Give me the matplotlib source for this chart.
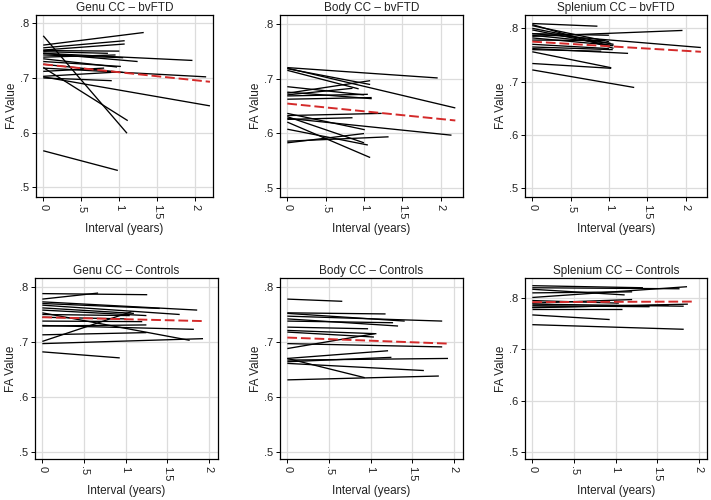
import matplotlib
matplotlib.use("Agg")
import matplotlib.pyplot as plt

plt.rcParams['font.family'] = ['Liberation Sans', 'DejaVu Sans']

# --- data: each subject is a segment from (0, y0) to (t1, y1) ---
# Genu CC - bvFTD
genu_ftd_y0 = [.777, .760, .719, .702, .567, .755, .751, .745, .718, .745, .750, .742, .735, .730, .700, .703, .738, .725, .748, .712]
genu_ftd_t1 = [1.10, 1.32, 1.11, 2.19, .98, 1.07, 1.07, 1.96, 2.14, 1.24, 1.00, 1.05, .97, 1.02, .90, 1.00, .95, 1.05, .85, .80]
genu_ftd_y1 = [.599, .783, .622, .649, .531, .768, .762, .732, .702, .730, .749, .737, .720, .721, .695, .711, .742, .710, .745, .718]
genu_ftd_fit = [.725, .693]

# Body CC - bvFTD
body_ftd_y0 = [.720, .719, .718, .715, .673, .685, .675, .670, .668, .636, .632, .627, .625, .620, .607, .582, .585, .630, .662]
body_ftd_t1 = [1.96, 2.19, 1.08, .93, 1.08, 1.00, 1.10, .85, 1.05, 1.01, 1.23, 2.14, .85, 1.08, 1.05, 1.00, 1.32, 1.00, 1.10]
body_ftd_y1 = [.701, .646, .689, .681, .696, .670, .663, .682, .671, .606, .636, .596, .628, .555, .578, .599, .593, .582, .665]
body_ftd_fit = [.654, .623]

# Splenium CC - bvFTD
splen_ftd_y0 = [.809, .807, .785, .790, .762, .756, .734, .722, .805, .800, .797, .790, .787, .782, .778, .770, .765, .760]
splen_ftd_t1 = [.85, 1.06, 1.96, 2.20, 1.25, 1.03, 1.03, 1.33, 1.00, 1.06, 1.05, 1.00, 1.02, 1.06, .95, 1.00, 1.05, .90]
splen_ftd_y1 = [.804, .7625, .796, .764, .753, .726, .725, .689, .775, .770, .767, .787, .772, .768, .777, .762, .760, .757]
splen_ftd_fit = [.775, .756]

# Genu CC - Controls
genu_ctl_y0 = [.788, .778, .773, .770, .767, .762, .758, .753, .701, .730, .729, .713, .697, .682, .738, .745, .750]
genu_ctl_t1 = [1.26, .67, 1.86, 1.41, 1.65, 1.10, 1.25, 1.77, 1.07, 1.82, 1.25, 1.25, 1.93, .93, 1.20, 1.00, 1.05]
genu_ctl_y1 = [.786, .789, .758, .761, .750, .752, .748, .703, .755, .723, .731, .717, .706, .671, .737, .742, .748]
genu_ctl_fit = [.745, .738]

# Body CC - Controls
body_ctl_y0 = [.778, .753, .752, .747, .742, .738, .727, .721, .718, .688, .697, .670, .667, .664, .661, .670, .631]
body_ctl_t1 = [.66, 1.18, 1.41, 1.86, 1.33, 1.27, .97, 1.07, 1.04, 1.05, 1.86, 1.21, 1.93, 1.25, 1.64, .93, 1.82]
body_ctl_y1 = [.774, .751, .738, .738, .729, .735, .724, .715, .709, .715, .691, .684, .670, .672, .648, .635, .638]
body_ctl_fit = [.708, .697]

# Splenium CC - Controls
splen_ctl_y0 = [.824, .820, .817, .801, .810, .788, .781, .778, .767, .748, .785, .795, .782, .790]
splen_ctl_t1 = [1.33, 1.77, 1.11, 1.86, 1.20, 1.82, 1.87, 1.08, .93, 1.82, 1.41, 1.04, 1.64, 1.20]
splen_ctl_y1 = [.820, .818, .806, .822, .812, .784, .788, .778, .758, .739, .783, .790, .786, .797]
splen_ctl_fit = [.792, .793]

titles = ["Genu CC \u2013 bvFTD", "Body CC \u2013 bvFTD", "Splenium CC \u2013 bvFTD",
          "Genu CC \u2013 Controls", "Body CC \u2013 Controls", "Splenium CC \u2013 Controls"]
panels = [
    (genu_ftd_y0, genu_ftd_t1, genu_ftd_y1, genu_ftd_fit, 2.19),
    (body_ftd_y0, body_ftd_t1, body_ftd_y1, body_ftd_fit, 2.19),
    (splen_ftd_y0, splen_ftd_t1, splen_ftd_y1, splen_ftd_fit, 2.20),
    (genu_ctl_y0, genu_ctl_t1, genu_ctl_y1, genu_ctl_fit, 1.93),
    (body_ctl_y0, body_ctl_t1, body_ctl_y1, body_ctl_fit, 1.93),
    (splen_ctl_y0, splen_ctl_t1, splen_ctl_y1, splen_ctl_fit, 1.93),
]

# axes rectangles in pixels (left, top, right, bottom) and limits
W, H = 711, 500
rects = [(36, 15, 213, 197), (280, 15, 463, 197), (525, 15, 707, 197),
         (35, 278, 218, 459), (280, 278, 463, 459), (525, 278, 707, 459)]
xlims = [(-0.095, 2.23), (-0.095, 2.29), (-0.095, 2.28),
         (-0.088, 2.11), (-0.088, 2.11), (-0.088, 2.10)]
ylims = [(.4825, .815), (.4826, .8165), (.4835, .825),
         (.487, .8164), (.487, .8164), (.486, .839)]

fig = plt.figure(figsize=(W / 100, H / 100), dpi=100)
fig.patch.set_facecolor('white')

for i, (y0, t1, y1, fit, tmax) in enumerate(panels):
    l, t, r, b = rects[i]
    ax = fig.add_axes([l / W, 1 - b / H, (r - l) / W, (b - t) / H])
    for a, d, e in zip(y0, t1, y1):
        ax.plot([0, d], [a, e], color='black', lw=0.95, solid_capstyle='butt', zorder=3)
    ax.plot([0, tmax], fit, color='#d42a2a', lw=1.4, ls=(0, (5, 2)), zorder=4)
    ax.set_xlim(*xlims[i])
    ax.set_ylim(*ylims[i])
    ax.set_xticks([0, .5, 1, 1.5, 2])
    ax.set_xticklabels(["0", ".5", "1", "1.5", "2"], rotation=270, fontsize=8, color='#222222')
    ax.set_yticks([.5, .6, .7, .8])
    ax.set_yticklabels([".5", ".6", ".7", ".8"], fontsize=8, color='#222222')
    ax.grid(True, color='#dcdcdc', lw=0.9, zorder=0)
    ax.set_axisbelow(True)
    ax.tick_params(direction='out', length=3, width=0.7, pad=2)
    for s in ax.spines.values():
        s.set_linewidth(0.9)
        s.set_color('black')
    ax.set_title(titles[i], fontsize=8.5, pad=3, color='#222222')
    ax.set_xlabel("Interval (years)", fontsize=8.5, color='#222222', labelpad=3)
    ax.set_ylabel("FA Value", fontsize=8.5, color='#222222', labelpad=1)

fig.savefig("out.png", dpi=100)
